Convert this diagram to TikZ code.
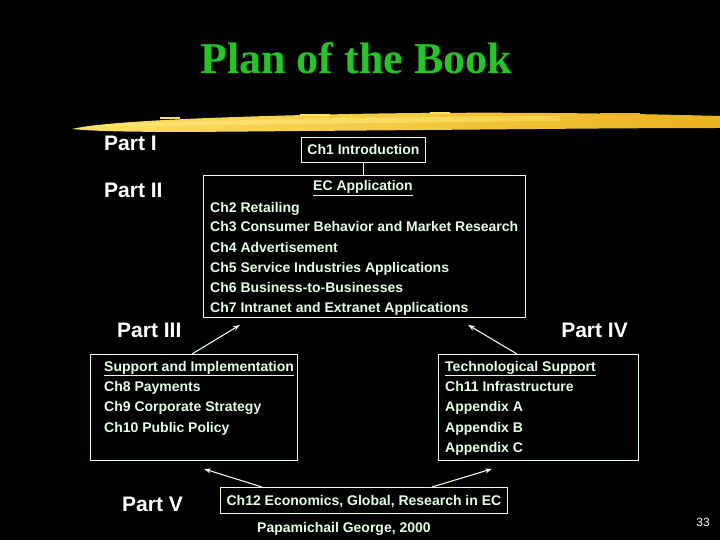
\documentclass[tikz,border=0pt]{standalone}
\usepackage{fontspec}
\setmainfont{Liberation Sans}
\newfontfamily\titlefont{Liberation Serif}
\usetikzlibrary{arrows.meta,calc}
\definecolor{mint}{RGB}{225,255,225}
\definecolor{titlegreen}{RGB}{34,200,34}
\definecolor{brushA}{RGB}{250,225,100}
\definecolor{brushB}{RGB}{235,178,30}
\definecolor{brushC}{RGB}{255,236,140}
\tikzset{
  box/.style={draw=mint, line width=0.9pt, inner sep=0pt, anchor=north west},
  txt/.style={text=mint, font=\bfseries\fontsize{14}{16}\selectfont, inner sep=0pt, anchor=base west},
  part/.style={text=white, font=\bfseries\fontsize{21}{24}\selectfont, inner sep=0pt},
  arr/.style={draw=mint, line width=1.1pt, -{Stealth[length=7pt,width=5pt]}}
}
\begin{document}
\begin{tikzpicture}[x=1pt,y=-1pt]
\fill[black] (0,0) rectangle (720,540);
\useasboundingbox (0,0) rectangle (720,540);
% title
\node[text=titlegreen, font=\titlefont\bfseries\fontsize{44}{50}\selectfont, inner sep=0pt, anchor=base] (title) at (356,74) {Plan of the Book};
% brush stroke
\shade[left color=brushA, right color=brushB]
  (72,129) .. controls (100,122) and (200,117) .. (350,114)
  .. controls (500,111) and (650,114) .. (720,116)
  -- (720,128) .. controls (600,128) and (450,130) .. (300,131)
  .. controls (200,132) and (110,133) .. (72,129) -- cycle;
\shade[left color=brushC, right color=brushA, opacity=0.6]
  (90,126) .. controls (200,120) and (350,117) .. (560,116)
  -- (560,121) .. controls (350,123) and (200,126) .. (90,126) -- cycle;
\fill[brushA] (160,117) rectangle (180,119);
\fill[brushA] (300,114) rectangle (330,116);
\fill[brushA] (430,112) rectangle (450,114);
\fill[brushB] (600,113) rectangle (640,115);
% part labels
\node[part, anchor=base west] (p1) at (104,151) {Part I};
\node[part, anchor=base west] (p2) at (104,197) {Part II};
\node[part, anchor=base west] (p3) at (117,337) {Part III};
\node[part, anchor=base east] (p4) at (628,337) {Part IV};
\node[part, anchor=base west] (p5) at (122,511) {Part V};
% Ch1 box
\node[box, minimum width=124pt, minimum height=25pt] (ch1) at (301,137) {};
\node[txt, anchor=base] (ch1t) at ($(ch1.north)+(0,18)$) {Ch1 Introduction};
% EC box
\node[box, minimum width=322pt, minimum height=142pt] (ec) at (203,175) {};
\draw[draw=mint, line width=0.9pt] (ch1.south) -- (ec.north -| ch1.south);
\node[txt, anchor=base] (ect) at (363,191) {\underline{EC Application}};
\node[txt] (c2) at (210,212) {Ch2 Retailing};
\node[txt] (c3) at (210,232) {Ch3 Consumer Behavior and Market Research};
\node[txt] (c4) at (210,252) {Ch4 Advertisement};
\node[txt] (c5) at (210,272) {Ch5 Service Industries Applications};
\node[txt] (c6) at (210,292) {Ch6 Business-to-Businesses};
\node[txt] (c7) at (210,312.5) {Ch7 Intranet and Extranet Applications};
% Part III box
\node[box, minimum width=207pt, minimum height=106pt] (sup) at (90,354) {};
\node[txt] (s0) at (104,371) {\underline{Support and Implementation}};
\node[txt] (s8) at (104,391) {Ch8 Payments};
\node[txt] (s9) at (104,411) {Ch9 Corporate Strategy};
\node[txt] (s10) at (104,432) {Ch10 Public Policy};
% Part IV box
\node[box, minimum width=200pt, minimum height=106pt] (tech) at (438,354) {};
\node[txt] (t0) at (445,371) {\underline{Technological Support}};
\node[txt] (t11) at (445,391) {Ch11 Infrastructure};
\node[txt] (ta) at (445,411) {Appendix A};
\node[txt] (tb) at (445,432) {Appendix B};
\node[txt] (tc) at (445,452) {Appendix C};
% Ch12 box
\node[box, minimum width=287pt, minimum height=26pt] (ch12) at (220,487) {};
\node[txt, anchor=base] (ch12t) at ($(ch12.north)+(0,18)$) {Ch12 Economics, Global, Research in EC};
% arrows
\coordinate (ecL) at ($(ec.south west)+(37,7)$);
\coordinate (ecR) at ($(ec.south west)+(265,7)$);
\coordinate (supB) at ($(sup.south west)+(114,8)$);
\coordinate (techB) at ($(tech.south west)+(54,8)$);
\draw[arr] ($(sup.north west)+(102,0)$) -- (ecL);
\draw[arr] ($(tech.north west)+(79,0)$) -- (ecR);
\draw[arr] ($(ch12.north west)+(42,0)$) -- (supB);
\draw[arr] ($(ch12.north west)+(212,0)$) -- (techB);
% footer
\node[txt, anchor=base] (auth) at (344,532) {Papamichail George, 2000};
\node[text=white, font=\fontsize{12}{14}\selectfont, inner sep=0pt, anchor=base] (pg) at (703,526) {33};
\end{tikzpicture}
\end{document}
